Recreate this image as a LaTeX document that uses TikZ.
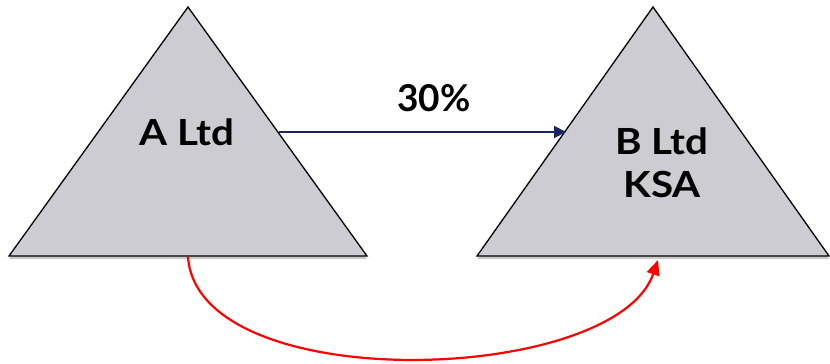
\documentclass[tikz,border=0pt]{standalone}
\usepackage{fontspec}
\setmainfont{Lato}
\newfontfamily\widefont{Lato}[FakeStretch=1.12]
\usetikzlibrary{arrows.meta,shadows}
\definecolor{trifill}{HTML}{CDCCD2}
\definecolor{navy}{HTML}{1A2366}
\definecolor{redline}{HTML}{FF0000}
\tikzset{
  tri/.style={draw=black, line width=1.3pt, fill=trifill, line join=miter,
    drop shadow={shadow xshift=0pt, shadow yshift=-3pt, opacity=0.35, fill=black!60}},
  lbl/.style={font=\widefont\fontsize{36}{43}\selectfont\bfseries, align=center, text=black},
  pctlbl/.style={font=\fontsize{37}{44}\selectfont\bfseries, text=black},
  bluearrow/.style={draw=navy, line width=2pt, -{Triangle[length=12pt,width=12pt]}},
  redarrow/.style={draw=redline, line width=2.2pt, -{Triangle[length=15pt,width=13pt]}},
}
\begin{document}
\begin{tikzpicture}[x=1pt,y=-1pt]
\useasboundingbox (0,0) rectangle (830,364);
% triangle A
\coordinate (a1) at (188,7);
\coordinate (a2) at (9,256);
\coordinate (a3) at (367,256);
\path[tri] (a1) -- (a3) -- (a2) -- cycle;
% triangle B
\coordinate (b1) at (653,7);
\coordinate (b2) at (477,256);
\coordinate (b3) at (829,256);
\path[tri] (b1) -- (b3) -- (b2) -- cycle;
% labels
\node[lbl] (A) at (187,132) {A Ltd};
\node[lbl] (B) at (662,163) {B Ltd\\KSA};
\node[pctlbl] (pct) at (434,98) {30\%};
% connectors
\coordinate (aR) at (279,132);
\coordinate (bL) at (566,132);
\draw[bluearrow] (aR) -- (bL);
\coordinate (aBot) at (188,257);
\coordinate (bBot) at (658,260);
\draw[redarrow] (aBot) .. controls (198,398) and (615,385) .. (bBot);
\end{tikzpicture}
\end{document}
